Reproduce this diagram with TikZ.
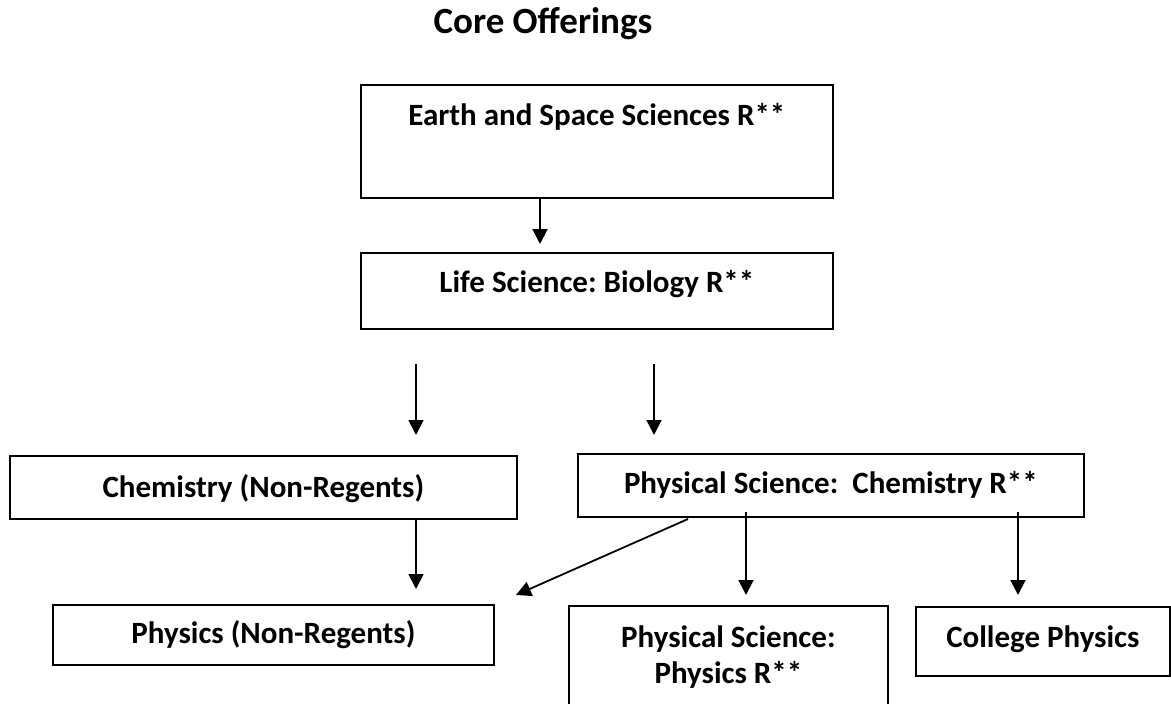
\documentclass[tikz,border=0pt]{standalone}
\usepackage{fontspec}
\setmainfont{Carlito}
\usetikzlibrary{arrows.meta}
\frenchspacing
\begin{document}
\begin{tikzpicture}[x=1pt,y=-1pt,
  cbox/.style={draw, rectangle, line width=1.8pt, inner xsep=0pt, inner ysep=0pt, anchor=north west,
    font=\bfseries\fontsize{31}{36}\selectfont},
  ttl/.style={font=\bfseries\fontsize{37}{42}\selectfont, inner sep=0pt, anchor=base},
  arr/.style={line width=1.8pt, -{Triangle[length=15pt,width=15pt]}}]
\useasboundingbox (0,0) rectangle (1171,704);
\node[ttl] (title) at (543,34) {Core Offerings};
\node[cbox, minimum width=472, text height=41, text depth=72] (earth) at (360,84) {Earth and Space Sciences R**};
\node[cbox, minimum width=472, text height=40, text depth=36] (life) at (360,252) {Life Science: Biology R**};
\node[cbox, minimum width=507, text height=42, text depth=21] (chemnr) at (9,455) {Chemistry (Non-Regents)};
\node[cbox, minimum width=506, text height=40, text depth=23] (pschem) at (577,453) {Physical Science:\ \ Chemistry R**};
\node[cbox, minimum width=441, text height=39, text depth=21] (physnr) at (52,604) {Physics (Non-Regents)};
\node[cbox, minimum width=319, text height=42, text depth=88] (psphys) at (568,605)
  {\begin{tabular}[t]{@{}c@{}}Physical Science:\\Physics R**\end{tabular}};
\node[cbox, minimum width=254, text height=41, text depth=28] (college) at (915,606) {College Physics};
% arrow coordinates
\coordinate (e1) at (540,244);
\coordinate (s2) at (416,364); \coordinate (e2) at (416,435);
\coordinate (s3) at (654,364); \coordinate (e3) at (654,435);
\coordinate (e4) at (416,589);
\coordinate (s5) at (688,519); \coordinate (e5) at (516,595);
\coordinate (e6) at (746,595);
\coordinate (e7) at (1018,595);
\draw[arr] (earth.south -| e1) -- (e1);
\draw[arr] (s2) -- (e2);
\draw[arr] (s3) -- (e3);
\draw[arr] (chemnr.south -| e4) -- (e4);
\draw[arr] (s5) -- (e5);
\draw[arr] ([yshift=6pt]pschem.south -| e6) -- (e6);
\draw[arr] ([yshift=6pt]pschem.south -| e7) -- (e7);
\end{tikzpicture}
\end{document}
